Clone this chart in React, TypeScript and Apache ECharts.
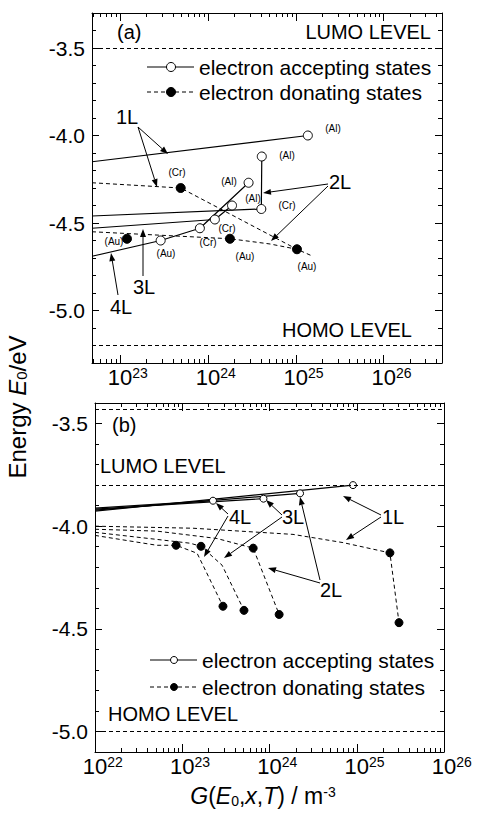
import React, { useEffect, useRef } from 'react';
import * as echarts from 'echarts';

// ---------- data (G in m^-3, energy in eV) ----------
// Panel (a)
const aAcc1L = [[4.8e22, -4.15], [1.37e25, -4.0]];
const aAcc2L = [[4.8e22, -4.46], [4.05e24, -4.42], [4.1e24, -4.12]];
const aAcc3L = [[4.8e22, -4.53], [1.2e24, -4.48], [1.88e24, -4.40]];
const aAcc4L = [[4.8e22, -4.69], [2.9e23, -4.60], [8.1e23, -4.53], [2.9e24, -4.27]];
const aAccMarks = [[1.37e25, -4.0], [4.05e24, -4.42], [4.1e24, -4.12], [1.2e24, -4.48], [1.88e24, -4.40], [2.9e23, -4.60], [8.1e23, -4.53], [2.9e24, -4.27]];
const aDon1L = [[4.8e22, -4.27], [4.9e23, -4.30], [1.03e25, -4.65], [1.56e25, -4.69]];
const aDon2L = [[4.8e22, -4.55], [1.78e24, -4.59], [5.1e24, -4.62], [1.03e25, -4.65]];
const aDonMarks = [[4.9e23, -4.30], [1.03e25, -4.65], [1.78e24, -4.59], [1.2e23, -4.59]];
const aLevels = [-3.5, -5.2];

// Panel (b)
const bAcc1L = [[1e22, -3.927], [9.06e24, -3.80]];
const bAcc2L = [[1e22, -3.922], [2.24e24, -3.84]];
const bAcc3L = [[1e22, -3.917], [8.53e23, -3.866]];
const bAcc4L = [[1e22, -3.912], [2.25e23, -3.876]];
const bAccMarks = [[9.06e24, -3.80], [2.24e24, -3.84], [8.53e23, -3.866], [2.25e23, -3.876]];
const bDon1L = [[1e22, -4.0], [1.33e23, -4.01], [1.86e24, -4.04], [6.95e24, -4.08], [2.4e25, -4.13], [3.05e25, -4.47]];
const bDon2L = [[1e22, -4.015], [5.1e22, -4.024], [2.5e23, -4.06], [6.5e23, -4.107], [1.29e24, -4.43]];
const bDon3L = [[1e22, -4.03], [1.23e23, -4.083], [1.64e23, -4.098], [2.86e23, -4.19], [5.1e23, -4.41]];
const bDon4L = [[1e22, -4.045], [5.1e22, -4.093], [8.5e22, -4.093], [1.48e23, -4.132], [2.93e23, -4.39]];
const bDonMarks = [[2.4e25, -4.13], [3.05e25, -4.47], [6.5e23, -4.107], [1.29e24, -4.43], [1.64e23, -4.098], [5.1e23, -4.41], [8.5e22, -4.093], [2.93e23, -4.39]];
const bLevels = [-3.43, -3.8, -5.0];

// axes
const aXRange = [4.8e22, 4.6e26];
const aYRange = [-5.3, -3.3];
const aXTickExps = [23, 24, 25, 26];
const bXRange = [1e22, 1e26];
const bYRange = [-5.1, -3.4];
const bXTickExps = [22, 23, 24, 25, 26];
const yTickLabels = [-3.5, -4.0, -4.5, -5.0];

const LEG_ACC = 'electron accepting states';
const LEG_DON = 'electron donating states';
const FONT = '"Liberation Sans", Arial, Helvetica, sans-serif';
const DASH = [4, 3];

const lg = (p: number[][]) => p.map(([g, e]) => [Math.log10(g), e]);

function minorLogs(lo: number, hi: number) {
  const out: number[] = [];
  for (let n = Math.floor(lo) - 1; n <= Math.ceil(hi); n++) {
    for (let k = 2; k <= 9; k++) {
      const v = n + Math.log10(k);
      if (v > lo && v < hi) out.push(v);
    }
  }
  return out;
}
function minorLin(lo: number, hi: number) {
  const out: number[] = [];
  for (let i = Math.ceil(lo * 10 - 1e-6); i <= Math.floor(hi * 10 + 1e-6); i++) {
    const v = i / 10;
    if (Math.abs(v * 2 - Math.round(v * 2)) > 1e-6) out.push(v);
  }
  return out;
}

function xAxes(gridIndex: number, range: number[], exps: number[]) {
  const lo = Math.log10(range[0]);
  const hi = Math.log10(range[1]);
  const majors = exps.filter((e) => e >= lo - 1e-9 && e <= hi + 1e-9);
  const minors = minorLogs(lo, hi);
  const base = { type: 'value', gridIndex, min: lo, max: hi, splitLine: { show: false }, axisPointer: { show: false } };
  const line = { show: true, lineStyle: { color: '#000', width: 1 } };
  return [
    {
      ...base, position: 'bottom', axisLine: line,
      axisTick: { show: true, inside: true, length: 8, customValues: majors, lineStyle: { color: '#000' } },
      axisLabel: {
        show: true, customValues: majors, margin: 3,
        formatter: (v: number) => { const n = Math.round(v); return `{p|${n}}{b|10}{s|${n}}`; },
        rich: {
          p: { fontSize: 14, fontFamily: FONT, color: 'rgba(0,0,0,0)', verticalAlign: 'top' },
          b: { fontSize: 22, fontFamily: FONT, color: '#000' },
          s: { fontSize: 14, fontFamily: FONT, color: '#000', verticalAlign: 'top' },
        },
      },
    },
    {
      ...base, position: 'bottom', axisLine: { show: false },
      axisTick: { show: true, inside: true, length: 4, customValues: minors, lineStyle: { color: '#000' } },
      axisLabel: { show: false },
    },
    {
      ...base, position: 'top', axisLine: line,
      axisTick: { show: true, inside: true, length: 8, customValues: majors, lineStyle: { color: '#000' } },
      axisLabel: { show: false },
    },
    {
      ...base, position: 'top', axisLine: { show: false },
      axisTick: { show: true, inside: true, length: 4, customValues: minors, lineStyle: { color: '#000' } },
      axisLabel: { show: false },
    },
  ];
}

function yAxes(gridIndex: number, range: number[]) {
  const [lo, hi] = range;
  const majors = yTickLabels.filter((v) => v >= lo && v <= hi);
  const minors = minorLin(lo, hi);
  const base = { type: 'value', gridIndex, min: lo, max: hi, splitLine: { show: false }, axisPointer: { show: false } };
  const line = { show: true, lineStyle: { color: '#000', width: 1 } };
  return [
    {
      ...base, position: 'left', axisLine: line,
      axisTick: { show: true, inside: true, length: 7, customValues: majors, lineStyle: { color: '#000' } },
      axisLabel: { show: true, customValues: majors, margin: 7, fontSize: 21, fontFamily: FONT, color: '#000', formatter: (v: number) => v.toFixed(1) },
    },
    {
      ...base, position: 'left', axisLine: { show: false },
      axisTick: { show: true, inside: true, length: 4, customValues: minors, lineStyle: { color: '#000' } },
      axisLabel: { show: false },
    },
    {
      ...base, position: 'right', axisLine: line,
      axisTick: { show: true, inside: true, length: 7, customValues: majors, lineStyle: { color: '#000' } },
      axisLabel: { show: false },
    },
    {
      ...base, position: 'right', axisLine: { show: false },
      axisTick: { show: true, inside: true, length: 4, customValues: minors, lineStyle: { color: '#000' } },
      axisLabel: { show: false },
    },
  ];
}

function pathSeries(name: string, data: number[][], ax: number, dashed: boolean) {
  return {
    type: 'line', name, xAxisIndex: ax, yAxisIndex: ax, data: lg(data), symbol: 'none', silent: true,
    lineStyle: { color: '#000', width: dashed ? 1 : 1.2, type: dashed ? DASH : 'solid' },
    clip: true, z: 2,
  };
}
function markSeries(name: string, data: number[][], ax: number, filled: boolean, size: number) {
  return {
    type: 'scatter', name, xAxisIndex: ax, yAxisIndex: ax, data: lg(data), symbol: 'circle', symbolSize: size, silent: true,
    itemStyle: { color: filled ? '#000' : '#fff', borderColor: '#000', borderWidth: 1, opacity: 1 }, z: 3,
  };
}
function levelSeries(levels: number[], ax: number) {
  return {
    type: 'line', xAxisIndex: ax, yAxisIndex: ax, data: [], silent: true,
    markLine: {
      silent: true, symbol: ['none', 'none'], label: { show: false },
      lineStyle: { color: '#000', width: 1, type: DASH },
      data: levels.map((v) => ({ yAxis: v })),
    },
  };
}

// ---------- annotations ----------
function txt(text: string, x: number, y: number, size = 20, align = 'left') {
  return { type: 'text', x, y, silent: true, style: { text, fill: '#000', font: `${size}px ${FONT}`, align, verticalAlign: 'middle' } };
}
function arrow(x1: number, y1: number, x2: number, y2: number) {
  const dx = x2 - x1, dy = y2 - y1;
  const L = Math.sqrt(dx * dx + dy * dy);
  const ux = dx / L, uy = dy / L;
  const h = 8, w = 3;
  const bx = x2 - ux * h, by = y2 - uy * h;
  return [
    { type: 'line', silent: true, shape: { x1, y1, x2: bx, y2: by }, style: { stroke: '#000', lineWidth: 1 } },
    { type: 'polygon', silent: true, shape: { points: [[x2, y2], [bx - uy * w, by + ux * w], [bx + uy * w, by - ux * w]] }, style: { fill: '#000' } },
  ];
}
function legendRow(x: number, y: number, text: string, dashed: boolean, r: number) {
  return [
    { type: 'line', silent: true, shape: { x1: x, y1: y, x2: x + 47, y2: y }, style: { stroke: '#000', lineWidth: dashed ? 1 : 1.2, lineDash: dashed ? DASH : null } },
    { type: 'circle', silent: true, shape: { cx: x + 24, cy: y, r }, style: { fill: dashed ? '#000' : '#fff', stroke: '#000', lineWidth: 1 } },
    txt(text, x + 52, y, 21),
  ];
}

const electrodeLabels: [string, number, number][] = [
  ['(Al)', 333, 128], ['(Al)', 287, 155], ['(Al)', 229, 181], ['(Al)', 253, 198], ['(Cr)', 287, 205],
  ['(Cr)', 227, 228], ['(Cr)', 208, 242], ['(Au)', 166, 253], ['(Au)', 114, 241], ['(Au)', 245, 256],
  ['(Au)', 307, 266], ['(Cr)', 177, 172],
];

export default function App() {
  const ref = useRef<HTMLDivElement>(null);
  useEffect(() => {
    if (!ref.current) return;
    const chart = echarts.init(ref.current, undefined, { renderer: 'svg' });
    const graphics: any[] = [
      // panel (a)
      txt('(a)', 117, 32, 20), txt('LUMO LEVEL', 431, 32, 20, 'right'), txt('HOMO LEVEL', 412, 330, 20, 'right'),
      ...legendRow(147, 67, LEG_ACC, false, 4.5), ...legendRow(147, 92, LEG_DON, true, 4.5),
      txt('1L', 116, 117, 20), ...arrow(138, 127, 168, 154), ...arrow(138, 127, 157, 187),
      txt('2L', 329, 182, 20), ...arrow(328, 184, 263, 193), ...arrow(328, 186, 271, 241),
      txt('3L', 133, 287, 20), ...arrow(143, 276, 143, 229),
      txt('4L', 110, 307, 20), ...arrow(118, 295, 111, 253),
      ...electrodeLabels.map(([t, x, y]) => txt(t, x, y, 10, 'center')),
      // panel (b)
      txt('(b)', 112, 425, 20), txt('LUMO LEVEL', 100, 466, 20), txt('HOMO LEVEL', 108, 714, 20),
      ...legendRow(150, 660, LEG_ACC, false, 3.5), ...legendRow(150, 687, LEG_DON, true, 3.5),
      txt('4L', 229, 517, 20), ...arrow(228, 514, 216, 503), ...arrow(228, 516, 204, 557),
      txt('3L', 282, 517, 20), ...arrow(282, 515, 266, 500), ...arrow(282, 517, 224, 558),
      txt('2L', 320, 590, 20), ...arrow(320, 580, 300, 497), ...arrow(320, 583, 268, 568),
      txt('1L', 382, 517, 20), ...arrow(381, 515, 343, 496), ...arrow(381, 517, 346, 540),
      // axis titles
      {
        type: 'text', x: 263, y: 796, silent: true,
        style: {
          text: '{i|G}{n|(}{i|E}{sub|0}{n|,}{i|x}{n|,}{i|T}{n|) / m}{sup|-3}',
          align: 'center', verticalAlign: 'middle', fill: '#000',
          rich: {
            i: { fontSize: 23, fontFamily: FONT, fontStyle: 'italic' },
            n: { fontSize: 23, fontFamily: FONT },
            sub: { fontSize: 14, fontFamily: FONT, verticalAlign: 'bottom' },
            sup: { fontSize: 14, fontFamily: FONT, verticalAlign: 'top' },
          },
        },
      },
      {
        type: 'text', x: 17, y: 407, rotation: Math.PI / 2, silent: true,
        style: {
          text: '{n|Energy }{i|E}{sub|0}{n|/eV}',
          align: 'center', verticalAlign: 'middle', fill: '#000',
          rich: {
            i: { fontSize: 24, fontFamily: FONT, fontStyle: 'italic' },
            n: { fontSize: 24, fontFamily: FONT },
            sub: { fontSize: 15, fontFamily: FONT, verticalAlign: 'bottom' },
          },
        },
      },
    ];

    chart.setOption({
      animation: false,
      backgroundColor: '#fff',
      grid: [
        { left: 92, top: 13, width: 350, height: 350, containLabel: false },
        { left: 95, top: 403, width: 349, height: 349, containLabel: false },
      ],
      xAxis: [...xAxes(0, aXRange, aXTickExps), ...xAxes(1, bXRange, bXTickExps)],
      yAxis: [...yAxes(0, aYRange), ...yAxes(1, bYRange)],
      series: [
        levelSeries(aLevels, 0),
        pathSeries(LEG_ACC, aAcc1L, 0, false), pathSeries(LEG_ACC, aAcc2L, 0, false),
        pathSeries(LEG_ACC, aAcc3L, 0, false), pathSeries(LEG_ACC, aAcc4L, 0, false),
        pathSeries(LEG_DON, aDon1L, 0, true), pathSeries(LEG_DON, aDon2L, 0, true),
        markSeries(LEG_ACC, aAccMarks, 0, false, 9), markSeries(LEG_DON, aDonMarks, 0, true, 9),
        levelSeries(bLevels, 4),
        pathSeries(LEG_ACC, bAcc1L, 4, false), pathSeries(LEG_ACC, bAcc2L, 4, false),
        pathSeries(LEG_ACC, bAcc3L, 4, false), pathSeries(LEG_ACC, bAcc4L, 4, false),
        pathSeries(LEG_DON, bDon1L, 4, true), pathSeries(LEG_DON, bDon2L, 4, true),
        pathSeries(LEG_DON, bDon3L, 4, true), pathSeries(LEG_DON, bDon4L, 4, true),
        markSeries(LEG_ACC, bAccMarks, 4, false, 7), markSeries(LEG_DON, bDonMarks, 4, true, 8),
      ],
      graphic: graphics,
    });
    return () => chart.dispose();
  }, []);
  return <div ref={ref} style={{ position: 'fixed', left: 0, top: 0, width: 481, height: 814, background: '#fff' }} />;
}
